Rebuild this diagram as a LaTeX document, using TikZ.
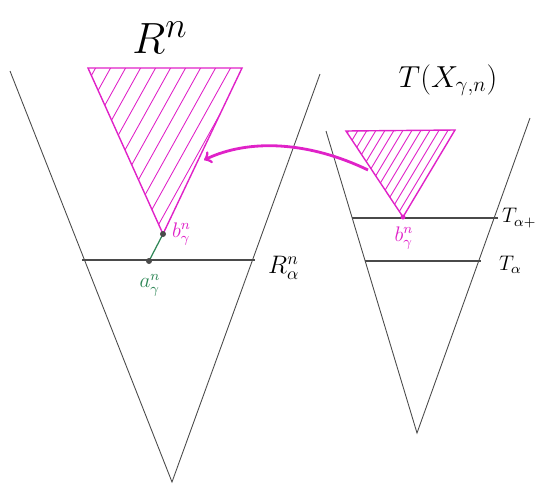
\documentclass[tikz,border=0pt]{standalone}
\definecolor{Cconegrey}{HTML}{4A4A4A}
\definecolor{Chatchmag}{HTML}{E022C8}
\definecolor{Cptgreen}{HTML}{2E8656}

\begin{document}
\begin{tikzpicture}[x=0.02cm,y=-0.02cm]
	\useasboundingbox (0,0) rectangle (535,491);
	% left cone R^n
	\coordinate (LtopL) at (10,71);
	\coordinate (LtopR) at (320,74);
	\coordinate (Lbot) at (172,482);
	\draw[Cconegrey,line width=0.5pt] (LtopL)--(Lbot)--(LtopR);
	\coordinate (RaL) at (82,260);
	\coordinate (RaR) at (255,260);
	\draw[Cconegrey,line width=0.6pt] (RaL)--(RaR);
	\node[font=\Huge] (Rn) at (160,38) {$R^n$};
	\node[font=\Large,anchor=west] (Rna) at (262,268) {$R^n_\alpha$};
	% left hatched triangle
	\coordinate (A1) at (88,68);
	\coordinate (A2) at (242,68);
	\coordinate (A3) at (163,234);
	\begin{scope}
		\clip (A1)--(A2)--(A3)--cycle;
		\foreach \i in {-8,...,14}
			\draw[Chatchmag,line width=0.5pt] (60+\i*15,240)--(160+\i*15,60);
	\end{scope}
	\draw[Chatchmag,line width=0.8pt] (A1)--(A2)--(A3)--cycle;
	% points a, b
	\coordinate (bpt) at (163,234);
	\coordinate (apt) at (149,261);
	\draw[Cptgreen,line width=0.7pt] (apt)--(bpt);
	\fill[Cconegrey] (bpt) circle (3);
	\fill[Cconegrey] (apt) circle (3);
	\node[Chatchmag,font=\large,anchor=west,inner sep=1pt] (blab) at (170,234) {$b^n_\gamma$};
	\node[Cptgreen,font=\large,inner sep=1pt] (alab) at (150,285) {$a^n_\gamma$};
	% right cone T(X)
	\coordinate (TtopL) at (326,131);
	\coordinate (TtopR) at (530,118);
	\coordinate (Tbot) at (417,433);
	\draw[Cconegrey,line width=0.5pt] (TtopL)--(Tbot)--(TtopR);
	\coordinate (TpL) at (352,218);
	\coordinate (TpR) at (498,218);
	\draw[Cconegrey,line width=0.6pt] (TpL)--(TpR);
	\coordinate (TaL) at (365,261);
	\coordinate (TaR) at (481,261);
	\draw[Cconegrey,line width=0.6pt] (TaL)--(TaR);
	\node[font=\LARGE] (TX) at (448,80) {$T(X_{\gamma,n})$};
	\node[font=\large,anchor=west,inner sep=1pt] (Tap) at (500,218) {$T_{\alpha+}$};
	\node[font=\large,anchor=west,inner sep=1pt] (Ta) at (497,265) {$T_\alpha$};
	% right hatched triangle
	\coordinate (B1) at (346,131);
	\coordinate (B2) at (455,130);
	\coordinate (B3) at (403,217);
	\begin{scope}
		\clip (B1)--(B2)--(B3)--cycle;
		\foreach \i in {-8,...,16}
			\draw[Chatchmag,line width=0.5pt] (330+\i*9,222)--(390+\i*9,122);
	\end{scope}
	\draw[Chatchmag,line width=0.8pt] (B1)--(B2)--(B3)--cycle;
	\fill[Chatchmag] (B3) circle (2.5);
	\node[Chatchmag,font=\large,inner sep=1pt] (blab2) at (404,238) {$b^n_\gamma$};
	% map between the triangles
	\coordinate (arrS) at (368,170);
	\coordinate (arrE) at (204,160);
	\draw[->,Chatchmag,line width=1.6pt] (arrS) .. controls (310,142) and (250,138) .. (arrE);
\end{tikzpicture}
\end{document}
